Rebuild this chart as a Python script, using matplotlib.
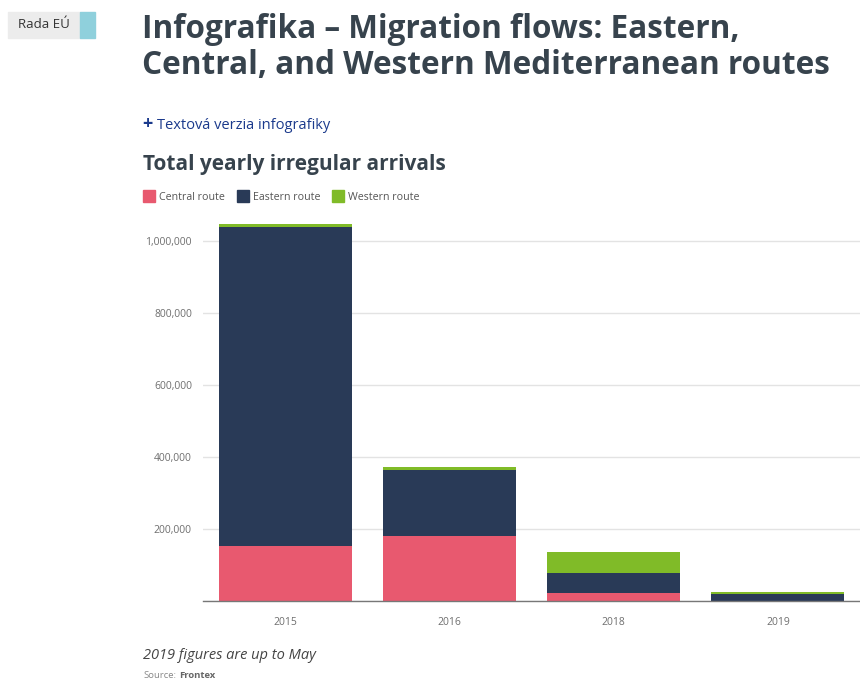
import matplotlib.pyplot as plt
import numpy as np

# yearly irregular arrivals by route (Frontex)
years = ["2015", "2016", "2018", "2019"]
central = [154000, 181000, 23000, 2000]
eastern = [885000, 182000, 56000, 17500]
western = [7200, 10200, 57000, 7500]

col_central = "#e8596f"
col_eastern = "#293a57"
col_western = "#80bb28"
dark = "#37434d"
grey = "#6f6f6f"

W, H = 860, 682
fig = plt.figure(figsize=(W / 100, H / 100), dpi=100)
plt.rcParams['font.family'] = ['Open Sans', 'DejaVu Sans']


def px(x, y):
    return x / W, 1 - y / H


# header
fig.patches.append(plt.Rectangle(px(8, 38), 72 / W, 26 / H, transform=fig.transFigure,
                                 color="#ececec", zorder=0))
fig.patches.append(plt.Rectangle(px(80, 38), 15 / W, 26 / H, transform=fig.transFigure,
                                 color="#8fd0dc", zorder=0))
fig.text(*px(18, 25), "Rada EÚ", fontsize=9.5, color="#333333", va="center")

fig.text(*px(142, 38), "Infografika – Migration flows: Eastern,", fontsize=22.7,
         fontweight="bold", color=dark, va="baseline")
fig.text(*px(142, 74), "Central, and Western Mediterranean routes", fontsize=22.7,
         fontweight="bold", color=dark, va="baseline")

fig.text(*px(142, 129), "+", fontsize=13, fontweight="bold", color="#1b3a8c", va="baseline")
fig.text(*px(157, 129), "Textová verzia infografiky", fontsize=10.5, color="#1b3a8c",
         va="baseline")

fig.text(*px(143, 170), "Total yearly irregular arrivals", fontsize=15,
         fontweight="bold", color=dark, va="baseline")

# legend
legend_items = [("Central route", col_central, 143), ("Eastern route", col_eastern, 237),
                ("Western route", col_western, 332)]
for label, c, x0 in legend_items:
    fig.patches.append(plt.Rectangle(px(x0, 202), 12 / W, 12 / H, transform=fig.transFigure,
                                     color=c))
    fig.text(*px(x0 + 16, 200), label, fontsize=7.7, color="#555555", va="baseline")

# chart
ax = fig.add_axes([203 / W, (H - 601.4) / H, (W - 203) / W, (601.4 - 219) / H])
x = np.arange(len(years))
bw = 0.81
c = np.array(central)
e = np.array(eastern)
w = np.array(western)
ax.bar(x, c, bw, color=col_central, zorder=2)
ax.bar(x, e, bw, bottom=c, color=col_eastern, zorder=2)
ax.bar(x, w, bw, bottom=c + e, color=col_western, zorder=2)

ax.set_xlim(-0.5, 3.5)
ax.set_ylim(0, 1060000)
ax.set_yticks([0, 200000, 400000, 600000, 800000, 1000000])
ax.set_yticklabels(["", "200,000", "400,000", "600,000", "800,000", "1,000,000"])
ax.set_xticks(x)
ax.set_xticklabels(years)
ax.grid(axis="y", color="#e3e3e3", linewidth=1, zorder=0)
ax.tick_params(axis="both", length=0, labelsize=7.5, labelcolor=grey)
ax.tick_params(axis="x", pad=11)
ax.tick_params(axis="y", pad=8)
for s in ["top", "right", "left"]:
    ax.spines[s].set_visible(False)
ax.spines["bottom"].set_color("#777777")
ax.spines["bottom"].set_linewidth(1)

# notes
fig.text(*px(143, 659), "2019 figures are up to May", fontsize=10.5, style="italic",
         color="#444444", va="baseline")
fig.text(*px(143, 678), "Source:", fontsize=6.8, color="#888888", va="baseline")
fig.text(*px(179, 678), "Frontex", fontsize=6.8, fontweight="bold", color="#666666",
         va="baseline")

fig.savefig("out.png", dpi=100)
